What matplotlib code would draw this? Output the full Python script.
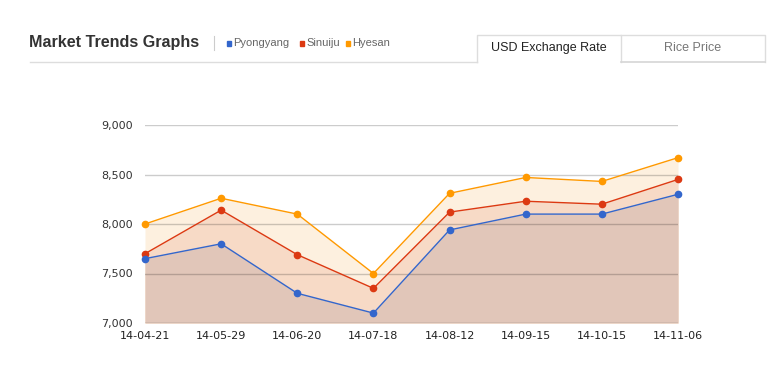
import matplotlib
matplotlib.use("Agg")
import matplotlib.pyplot as plt
from matplotlib.patches import Rectangle
from matplotlib.lines import Line2D

dates = ["14-04-21", "14-05-29", "14-06-20", "14-07-18",
         "14-08-12", "14-09-15", "14-10-15", "14-11-06"]
pyongyang = [7650, 7800, 7300, 7100, 7940, 8100, 8100, 8300]
sinuiju = [7700, 8140, 7690, 7350, 8120, 8230, 8200, 8450]
hyesan = [8000, 8260, 8100, 7500, 8310, 8470, 8430, 8670]
yticks = [7000, 7500, 8000, 8500, 9000]

series = [
    ("Hyesan", hyesan, "#ff9900", "#fdf0df"),
    ("Sinuiju", sinuiju, "#dc3912", "#f7dac6"),
    ("Pyongyang", pyongyang, "#3366cc", "#e1c6b9"),
]

W, H = 770, 386
fig = plt.figure(figsize=(W / 100, H / 100), dpi=100)

def fx(px):
    return px / W

def fy(py):
    return 1 - py / H

# header
fig.text(fx(29), fy(43), "Market Trends Graphs", fontsize=11.6, fontweight="bold",
         family="Liberation Sans", color="#333333", va="center")
fig.add_artist(Line2D([fx(214), fx(214)], [fy(36), fy(50)], color="#cccccc", lw=0.8))
legend_items = [("Pyongyang", "#3366cc", 227), ("Sinuiju", "#dc3912", 300), ("Hyesan", "#ff9900", 346)]
for name, col, px in legend_items:
    fig.add_artist(Rectangle((fx(px), fy(45.5)), fx(4), 4 / H, color=col))
    fig.text(fx(px + 6), fy(43), name, fontsize=8, family="Liberation Sans",
             color="#666666", va="center")
fig.add_artist(Line2D([fx(30), fx(477)], [fy(62), fy(62)], color="#dddddd", lw=1))

# tabs
fig.add_artist(Line2D([fx(477), fx(477), fx(621), fx(621)],
                      [fy(62), fy(35), fy(35), fy(62)], color="#dddddd", lw=1))
fig.add_artist(Line2D([fx(621), fx(765), fx(765)],
                      [fy(35), fy(35), fy(62)], color="#dddddd", lw=1))
fig.add_artist(Line2D([fx(621), fx(765)], [fy(62), fy(62)], color="#d6d6d6", lw=1.2))
fig.text(fx(549), fy(48), "USD Exchange Rate", fontsize=9, family="Liberation Sans",
         color="#222222", ha="center", va="center")
fig.text(fx(693), fy(48), "Rice Price", fontsize=9, family="Liberation Sans",
         color="#777777", ha="center", va="center")

# chart
ax = fig.add_axes([fx(145), fy(323), fx(678) - fx(145), (323 - 125) / H])
x = list(range(len(dates)))
for name, vals, col, fill in series:
    ax.fill_between(x, vals, 7000, color=fill, lw=0, zorder=1)
for y in yticks:
    c = (0.3, 0.3, 0.3, 0.55) if y == 7000 else (0, 0, 0, 0.2)
    ax.axhline(y, color=c, lw=1, zorder=2)
for name, vals, col, fill in series:
    ax.plot(x, vals, color=col, lw=1, marker="o", ms=4.5, zorder=3, clip_on=False)

ax.set_xlim(0, len(dates) - 1)
ax.set_ylim(7000, 9000)
ax.set_yticks(yticks)
ax.set_yticklabels([f"{v:,}" for v in yticks])
ax.set_xticks(x)
ax.set_xticklabels(dates)
for s in ax.spines.values():
    s.set_visible(False)
ax.tick_params(length=0, labelsize=8, colors="#222222")
ax.tick_params(axis="y", pad=8.5, colors="#333333")
ax.tick_params(axis="x", pad=6)

fig.savefig("out.png", dpi=100)
